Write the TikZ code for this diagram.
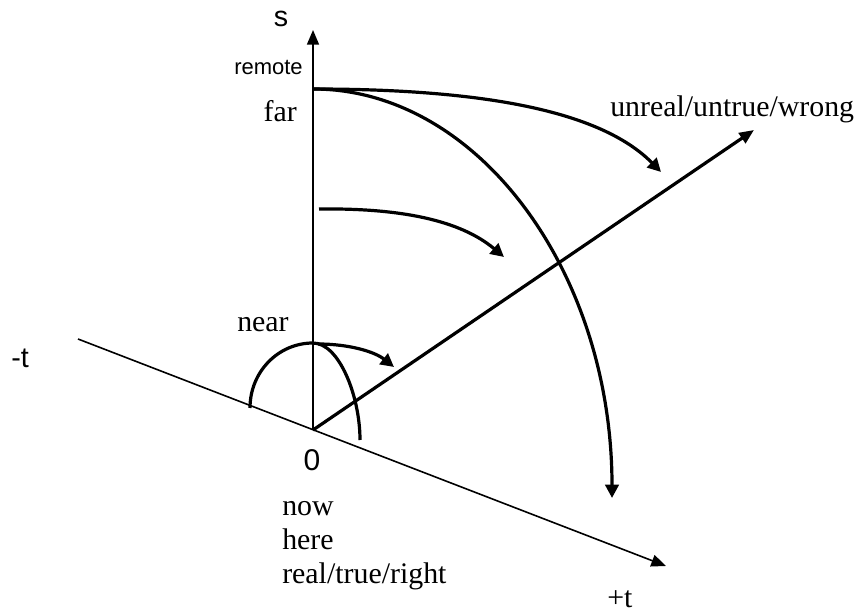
\documentclass[tikz,border=0pt]{standalone}
\usepackage{fontspec}
\setmainfont{Liberation Serif}
\newfontfamily\arialfont{Liberation Sans}
\usetikzlibrary{arrows.meta}

\begin{document}
\begin{tikzpicture}[x=0.75pt, y=-0.75pt, line join=round,
  >={Triangle[length=11pt,width=9pt]},
  thinline/.style={line width=1.2pt},
  thickline/.style={line width=2.4pt},
  bigarrow/.style={thickline, -{Triangle[length=10pt,width=10pt]}},
  serif/.style={inner sep=0pt, font=\fontsize{22.4}{26}\selectfont},
  sans/.style={inner sep=0pt, font=\arialfont\fontsize{21.5}{26}\selectfont}]
\useasboundingbox (0,0) rectangle (859,616);

% Punkte
\coordinate (O)       at (313,430);
\coordinate (tneg)    at (78,339);
\coordinate (tpos)    at (666,566);
\coordinate (stop)    at (313,30);
\coordinate (diag)    at (754,130);
\coordinate (farpt)   at (313,89);
\coordinate (uptip)   at (661,172);
\coordinate (arctip)  at (612,498);
\coordinate (midfrom) at (319,209);
\coordinate (midtip)  at (504,257);
\coordinate (nearpt)  at (313,343);
\coordinate (neartip) at (394,367);
\coordinate (footl)   at (250,408);
\coordinate (footr)   at (360,440);

% Achsen
\draw[thinline, ->] (tneg) -- (tpos);
\draw[thinline, ->] (O) -- (stop);
\draw[thickline, ->] (O) -- (diag);

% Bögen
\draw[bigarrow] (farpt) .. controls (480,89) and (600,110) .. (uptip);
\draw[bigarrow] (farpt) .. controls (478,89) and (612,272) .. (arctip);
\draw[bigarrow] (midfrom) .. controls (400,208) and (460,220) .. (midtip);
\draw[bigarrow] (318,344) .. controls (350,344) and (375,352) .. (neartip);
\draw[thickline] (footl) .. controls (250,372) and (278,343) .. (nearpt)
                         .. controls (339,343) and (360,396) .. (footr);

% Beschriftung
\node[sans, anchor=base] (s) at (281,27) {s};
\node[sans, font=\arialfont\fontsize{16.5}{20}\selectfont, anchor=base east] (remote) at (303,75) {remote};
\node[serif, anchor=base east] (far) at (297,122) {far};
\node[serif, anchor=base west] (unreal) at (610,117) {unreal/untrue/wrong};
\node[serif, anchor=base west] (near) at (237,331) {near};
\node[sans, anchor=base west] (mt) at (11,367) {-t};
\node[sans, font=\arialfont\fontsize{22.5}{26}\selectfont, anchor=base] (zero) at (312,470) {0};
\node[serif, anchor=base west] (now) at (282,515) {now};
\node[serif, anchor=base west] (here) at (282,549) {here};
\node[serif, anchor=base west] (real) at (282,583) {real/true/right};
\node[serif, anchor=base west] (pt) at (607,607) {+t};
\end{tikzpicture}
\end{document}
